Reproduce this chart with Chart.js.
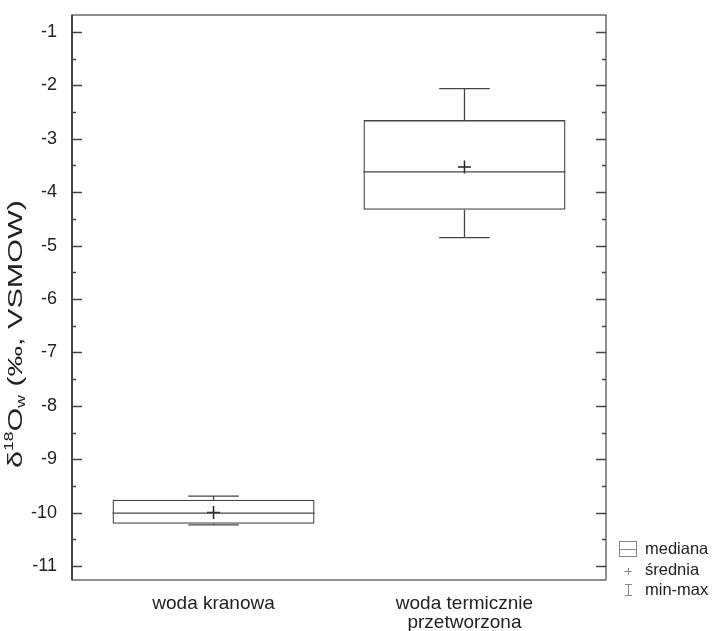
<!DOCTYPE html>
<html>
<head>
<meta charset="utf-8">
<title>δ18O box plot</title>
<script src="https://cdn.jsdelivr.net/npm/chart.js"></script>
<style>
    body {
        margin: 0;
        background: #fff;
    }
    .chart-container {
        position: relative;
        width: 718px;
        height: 631px;
    }
</style>
</head>
<body>
<div class="chart-container">
    <canvas id="boxChart"></canvas>
</div>
<script>
// data
const categories = ['woda kranowa', ['woda termicznie', 'przetworzona']];
const xPositions = [1, 2];
const minVals = [-10.23, -4.85];
const q1Vals = [-10.21, -4.33];
const medianVals = [-10.01, -3.62];
const q3Vals = [-9.76, -2.65];
const maxVals = [-9.69, -2.06];
const meanVals = [-10.0, -3.53];
const yTicks = [-11, -10, -9, -8, -7, -6, -5, -4, -3, -2, -1];
const legendItems = ['mediana', 'średnia', 'min-max'];

const FONT = '"Liberation Sans", Arial, sans-serif';
const LINE = '#444';

// whiskers, caps and median lines on top of the floating bars
const boxExtras = {
    id: 'boxExtras',
    afterDatasetsDraw(chart) {
        const { ctx, scales: { x, y } } = chart;
        const bars = chart.getDatasetMeta(0).data;
        ctx.save();
        ctx.strokeStyle = LINE;
        ctx.lineWidth = 1.3;
        xPositions.forEach((pos, i) => {
            const xp = x.getPixelForValue(pos);
            const half = bars[i].width / 2;
            const cap = half * 0.25;
            const line = (x1, y1, x2, y2) => {
                ctx.beginPath();
                ctx.moveTo(x1, y1);
                ctx.lineTo(x2, y2);
                ctx.stroke();
            };
            line(xp - half, y.getPixelForValue(medianVals[i]), xp + half, y.getPixelForValue(medianVals[i]));
            line(xp, y.getPixelForValue(q3Vals[i]), xp, y.getPixelForValue(maxVals[i]));
            line(xp, y.getPixelForValue(q1Vals[i]), xp, y.getPixelForValue(minVals[i]));
            line(xp - cap, y.getPixelForValue(maxVals[i]), xp + cap, y.getPixelForValue(maxVals[i]));
            line(xp - cap, y.getPixelForValue(minVals[i]), xp + cap, y.getPixelForValue(minVals[i]));
        });
        ctx.restore();
    }
};

// frame, inward ticks, rotated axis title, legend
const frameAndText = {
    id: 'frameAndText',
    afterDraw(chart) {
        const { ctx, chartArea: a, scales: { y } } = chart;
        ctx.save();

        // frame
        ctx.strokeStyle = '#555';
        ctx.lineWidth = 1.3;
        ctx.strokeRect(a.left, a.top, a.right - a.left, a.bottom - a.top);
        ctx.strokeStyle = '#333';
        ctx.lineWidth = 1.6;
        ctx.beginPath();
        ctx.moveTo(a.left, a.top);
        ctx.lineTo(a.left, a.bottom);
        ctx.stroke();

        // inward ticks on left and right
        ctx.strokeStyle = '#444';
        ctx.lineWidth = 1.3;
        const tick = (v, len) => {
            const py = Math.round(y.getPixelForValue(v)) + 0.5;
            ctx.beginPath();
            ctx.moveTo(a.left, py);
            ctx.lineTo(a.left + len, py);
            ctx.moveTo(a.right, py);
            ctx.lineTo(a.right - len, py);
            ctx.stroke();
        };
        yTicks.forEach((v, i) => {
            tick(v, 10);
            if (i < yTicks.length - 1) tick((v + yTicks[i + 1]) / 2, 4);
        });

        // y title: δ18Ow (‰, VSMOW), a little stretched like the original
        const parts = [
            { t: 'δ', size: 21, dy: 0 },
            { t: '18', size: 12, dy: -9 },
            { t: 'O', size: 21, dy: 0 },
            { t: 'w', size: 12, dy: 3 },
            { t: ' (‰, VSMOW)', size: 21, dy: 0 }
        ];
        let total = 0;
        parts.forEach(p => {
            ctx.font = p.size + 'px ' + FONT;
            p.w = ctx.measureText(p.t).width;
            total += p.w;
        });
        ctx.translate(22, 334);
        ctx.rotate(-Math.PI / 2);
        ctx.scale(268 / total, 1);
        ctx.fillStyle = '#222';
        ctx.textBaseline = 'alphabetic';
        let cx = -total / 2;
        parts.forEach(p => {
            ctx.font = p.size + 'px ' + FONT;
            ctx.fillText(p.t, cx, p.dy);
            cx += p.w;
        });
        ctx.setTransform(1, 0, 0, 1, 0, 0);

        // legend
        const lx = 628;
        const rows = [549, 570, 590];
        ctx.strokeStyle = '#888';
        ctx.lineWidth = 1;
        ctx.strokeRect(619.5, 541.5, 17, 15);
        ctx.beginPath();
        ctx.moveTo(619.5, 549.5); ctx.lineTo(636.5, 549.5);
        ctx.moveTo(lx - 3.5, 571.5); ctx.lineTo(lx + 3.5, 571.5);
        ctx.moveTo(lx + 0.5, 568); ctx.lineTo(lx + 0.5, 575);
        ctx.moveTo(lx - 3, 584.5); ctx.lineTo(lx + 4, 584.5);
        ctx.moveTo(lx + 0.5, 584.5); ctx.lineTo(lx + 0.5, 595.5);
        ctx.moveTo(lx - 3, 595.5); ctx.lineTo(lx + 4, 595.5);
        ctx.stroke();
        ctx.fillStyle = '#222';
        ctx.font = '16.5px ' + FONT;
        ctx.textBaseline = 'middle';
        legendItems.forEach((t, i) => ctx.fillText(t, 645, rows[i]));

        ctx.restore();
    }
};

new Chart(document.getElementById('boxChart'), {
    type: 'bar',
    data: {
        datasets: [
            {
                data: xPositions.map((x, i) => ({ x: x, y: [q1Vals[i], q3Vals[i]] })),
                backgroundColor: 'rgba(255,255,255,0)',
                borderColor: LINE,
                borderWidth: 1.3,
                borderSkipped: false,
                barPercentage: 1,
                categoryPercentage: 0.805
            },
            {
                type: 'scatter',
                data: xPositions.map((x, i) => ({ x: x, y: meanVals[i] })),
                pointStyle: 'cross',
                radius: 6.5,
                borderColor: '#222',
                borderWidth: 1.5
            }
        ]
    },
    options: {
        responsive: true,
        maintainAspectRatio: false,
        animation: false,
        layout: { padding: { top: 15, right: 112, left: 0, bottom: 0 } },
        plugins: {
            legend: { display: false },
            tooltip: { enabled: false }
        },
        scales: {
            x: {
                type: 'linear',
                offset: false,
                min: 0.436,
                max: 2.564,
                grid: { display: false, drawTicks: false },
                border: { display: false },
                afterBuildTicks: scale => { scale.ticks = xPositions.map(v => ({ value: v })); },
                afterFit: scale => {
                    scale.height = 51;
                    scale.paddingLeft = 0;
                    scale.paddingRight = 0;
                },
                ticks: {
                    callback: (v, i) => categories[i],
                    font: { family: FONT, size: 19, lineHeight: 1.0 },
                    color: '#222',
                    padding: 14,
                    maxRotation: 0,
                    autoSkip: false
                }
            },
            y: {
                min: -11.262,
                max: -0.682,
                grid: { display: false, drawTicks: false },
                border: { display: false },
                afterBuildTicks: scale => { scale.ticks = yTicks.map(v => ({ value: v })); },
                afterFit: scale => {
                    scale.width = 72;
                    scale.paddingTop = 0;
                    scale.paddingBottom = 0;
                },
                ticks: {
                    font: { family: FONT, size: 18 },
                    color: '#222',
                    padding: 15
                }
            }
        }
    },
    plugins: [boxExtras, frameAndText]
});
</script>
</body>
</html>
